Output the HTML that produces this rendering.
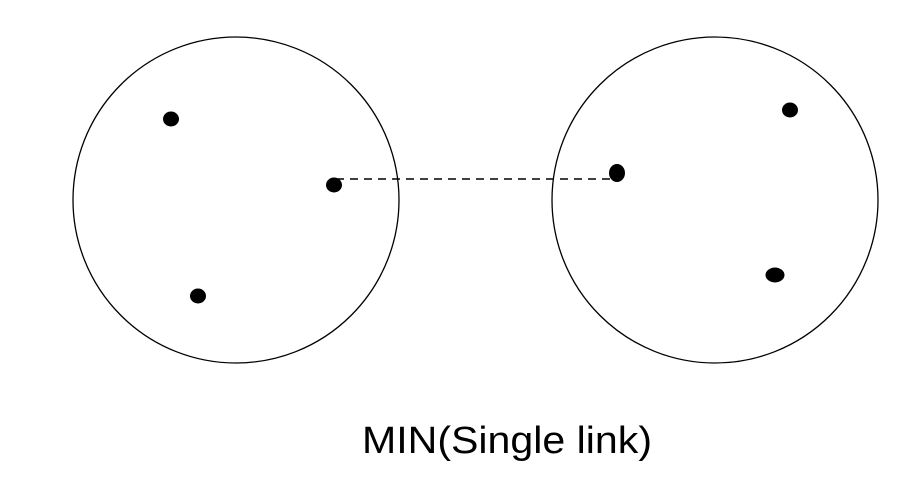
<!DOCTYPE html>
<html><head><meta charset="utf-8"><style>html,body{margin:0;padding:0;background:#fff}svg{display:block}</style></head>
<body>
<svg width="916" height="498" viewBox="0 0 916 498">
<circle cx="236" cy="200" r="163" fill="none" stroke="#000" stroke-width="1.3"/>
<circle cx="715" cy="200" r="163" fill="none" stroke="#000" stroke-width="1.3"/>
<line x1="336" y1="179" x2="617" y2="179" stroke="#000" stroke-width="1.5" stroke-dasharray="8,6"/>
<ellipse cx="171" cy="119" rx="8" ry="7.5"/>
<ellipse cx="334" cy="185" rx="8" ry="7.5"/>
<ellipse cx="198" cy="296" rx="8" ry="7.5"/>
<ellipse cx="617" cy="173" rx="8" ry="9"/>
<ellipse cx="790" cy="110" rx="8" ry="7.5"/>
<ellipse cx="775" cy="275" rx="9.5" ry="7.5"/>
<text x="362" y="453" textLength="290" lengthAdjust="spacingAndGlyphs" font-family="Liberation Sans, sans-serif" font-size="38">MIN(Single link)</text>
</svg>
</body></html>
